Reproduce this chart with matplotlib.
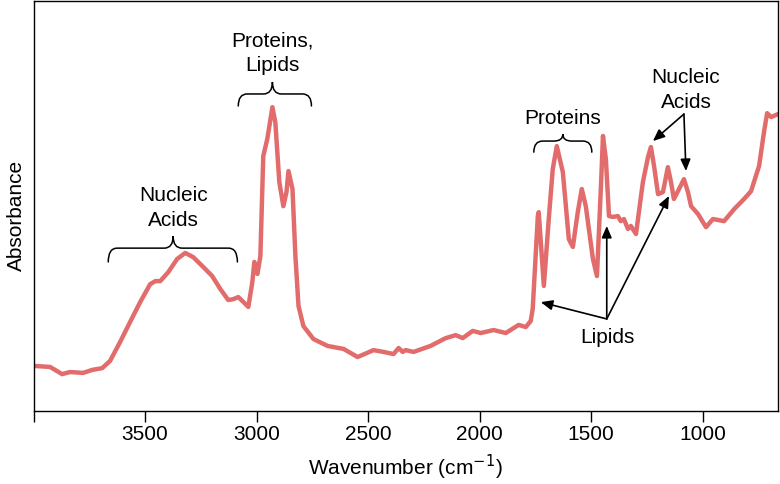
import numpy as np
import matplotlib
matplotlib.use("Agg")
from matplotlib import pyplot as plt
from matplotlib.path import Path
from matplotlib.patches import PathPatch

plt.rcParams['font.family'] = ['Liberation Sans', 'DejaVu Sans']

# spectrum (wavenumber in cm-1, absorbance in arb. units)
wavenumber = [3993, 3926, 3872, 3836, 3778, 3737, 3692, 3657, 3612, 3567,
              3522, 3477, 3454, 3432, 3396, 3356, 3320, 3284, 3239, 3199,
              3163, 3127, 3104, 3082, 3064, 3037, 3019, 3010, 2996, 2983,
              2970, 2952, 2929, 2916, 2898, 2880, 2866, 2857, 2839, 2826,
              2812, 2790, 2745, 2682, 2610, 2547, 2476, 2431, 2386, 2363,
              2345, 2332, 2296, 2220, 2152, 2107, 2076, 2031, 1995, 1937,
              1883, 1825, 1793, 1771, 1762, 1739, 1735, 1712, 1690, 1672,
              1654, 1627, 1600, 1582, 1560, 1542, 1524, 1492, 1474, 1456,
              1447, 1434, 1420, 1403, 1380, 1367, 1353, 1335, 1322, 1299,
              1268, 1245, 1232, 1218, 1200, 1178, 1156, 1142, 1129, 1106,
              1084, 1066, 1052, 1021, 985, 954, 904, 859, 814, 783,
              747, 725, 711, 693, 662]
absorbance = [0.150, 0.147, 0.123, 0.130, 0.127, 0.137, 0.143, 0.167, 0.230, 0.297,
              0.363, 0.423, 0.433, 0.433, 0.463, 0.507, 0.527, 0.513, 0.480, 0.450,
              0.407, 0.370, 0.373, 0.380, 0.367, 0.347, 0.430, 0.497, 0.457, 0.517,
              0.850, 0.907, 1.013, 0.963, 0.763, 0.683, 0.730, 0.800, 0.740, 0.517,
              0.350, 0.283, 0.240, 0.217, 0.207, 0.180, 0.203, 0.197, 0.190, 0.210,
              0.197, 0.203, 0.197, 0.217, 0.243, 0.253, 0.243, 0.267, 0.260, 0.270,
              0.260, 0.287, 0.280, 0.300, 0.340, 0.650, 0.663, 0.417, 0.640, 0.807,
              0.883, 0.797, 0.573, 0.547, 0.663, 0.740, 0.683, 0.507, 0.450, 0.750,
              0.917, 0.840, 0.650, 0.647, 0.650, 0.633, 0.640, 0.607, 0.617, 0.590,
              0.763, 0.847, 0.880, 0.817, 0.723, 0.730, 0.813, 0.763, 0.707, 0.740,
              0.773, 0.730, 0.683, 0.657, 0.613, 0.640, 0.633, 0.673, 0.707, 0.733,
              0.817, 0.930, 0.993, 0.980, 0.990]

xticks = [4000, 3500, 3000, 2500, 2000, 1500, 1000]
xticklabels = ['', '3500', '3000', '2500', '2000', '1500', '1000']

# braces: (left, right, tip, end y, bar y, tip y, label)
braces = [
    (3665, 3086, 3374, 0.497, 0.543, 0.583, 'Nucleic\nAcids'),
    (3082, 2754, 2929, 1.017, 1.057, 1.097, 'Proteins,\nLipids'),
    (1757, 1497, 1627, 0.863, 0.900, 0.923, 'Proteins'),
]

# arrow callouts: label, label position, arrow tail, arrow heads
nucleic_text = (1075, 1.0)
nucleic_tail = (1084, 0.990)
nucleic_heads = [(1223, 0.900), (1075, 0.800)]
lipid_text = (1425, 0.25)
lipid_tail = (1430, 0.307)
lipid_heads = [(1726, 0.363), (1430, 0.617), (1151, 0.717)]


def brace(ax, x1, x2, xm, ye, yt, yp, r=40):
    s = np.sign(x2 - x1)
    verts = [(x1, ye), (x1, yt), (x1 + s * r, yt),
             (xm - s * r, yt), (xm, yt), (xm, yp),
             (xm, yt), (xm + s * r, yt),
             (x2 - s * r, yt), (x2, yt), (x2, ye)]
    codes = [Path.MOVETO, Path.CURVE3, Path.CURVE3,
             Path.LINETO, Path.CURVE3, Path.CURVE3,
             Path.CURVE3, Path.CURVE3,
             Path.LINETO, Path.CURVE3, Path.CURVE3]
    ax.add_patch(PathPatch(Path(verts, codes), fill=False, lw=1.1,
                           ec='black', capstyle='round'))


fig = plt.figure(figsize=(7.8, 4.85), dpi=100)
ax = fig.add_axes([0.043, 0.1505, 0.9545, 0.8454])

ax.plot(wavenumber, absorbance, color='#e26c6c', lw=3.2,
        solid_joinstyle='round', solid_capstyle='round')

ax.set_xlim(4000, 662)
ax.set_ylim(0, 1.367)
ax.set_xticks(xticks)
ax.set_xticklabels(xticklabels)
ax.set_yticks([])
ax.tick_params(axis='x', direction='out', length=8, width=1, labelsize=15, pad=1)
for sp in ax.spines.values():
    sp.set_linewidth(1)

ax.set_xlabel('Wavenumber (cm$^{-1}$)', fontsize=15)
ax.xaxis.set_label_coords(0.499, -0.1)
ax.set_ylabel('Absorbance', fontsize=15)
ax.yaxis.set_label_coords(-0.01, 0.48)

for x1, x2, xm, ye, yt, yp, label in braces:
    brace(ax, x1, x2, xm, ye, yt, yp)
    ax.text(xm, yp + 0.025, label, ha='center', va='bottom', fontsize=15,
            linespacing=1.4)

arrow = dict(arrowstyle='-|>,head_length=0.7,head_width=0.3', color='black',
             lw=1.2, shrinkA=0, shrinkB=0)
ax.text(*nucleic_text, 'Nucleic\nAcids', ha='center', va='bottom', fontsize=15,
        linespacing=1.4)
for head in nucleic_heads:
    ax.annotate('', xy=head, xytext=nucleic_tail, arrowprops=arrow)
ax.text(*lipid_text, 'Lipids', ha='center', va='center', fontsize=15)
for head in lipid_heads:
    ax.annotate('', xy=head, xytext=lipid_tail, arrowprops=arrow)

fig.savefig('out.png', dpi=100)
